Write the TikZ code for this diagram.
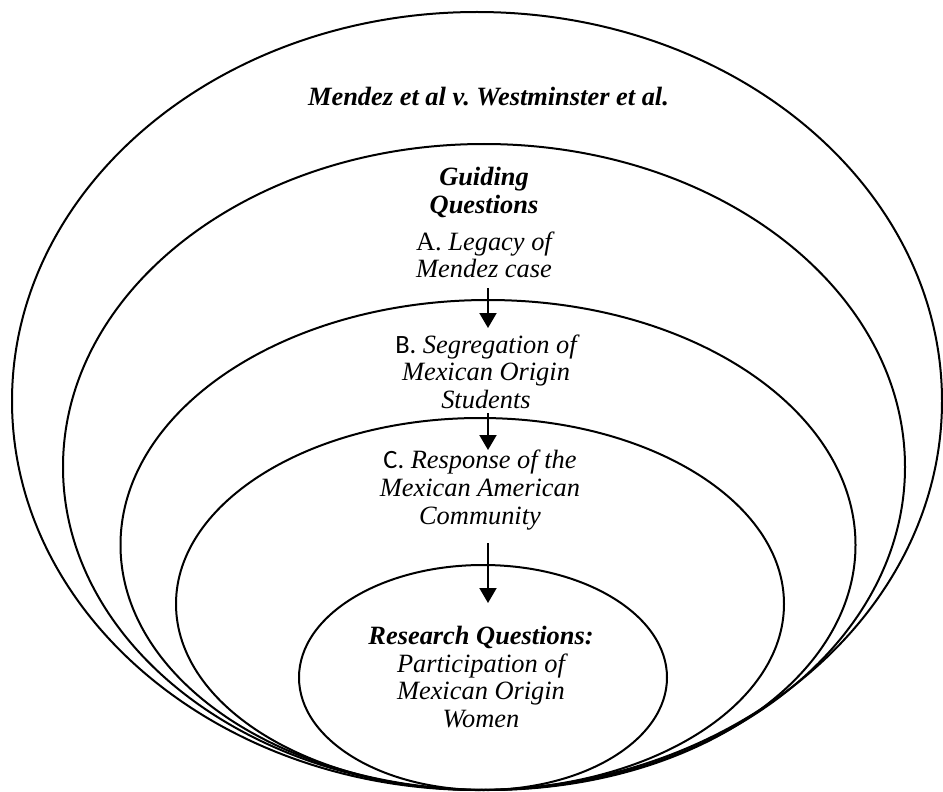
\documentclass[tikz,border=0pt]{standalone}
\usepackage{fontspec}
\setmainfont{Liberation Serif}
\newfontfamily\calfont{Carlito}
\usetikzlibrary{shapes.geometric}
\usetikzlibrary{arrows.meta}
\frenchspacing
\tikzset{
    ring/.style = {ellipse, draw=black, line width=1pt, inner sep=0pt},
    title/.style = {align=center, inner sep=0pt, font=\fontsize{13.2}{13.8}\selectfont\bfseries\itshape},
    qtext/.style = {align=center, inner sep=0pt, font=\fontsize{13.2}{13.8}\selectfont\itshape},
    edgen/.style = {-{Triangle[length=7.5pt,width=8.5pt]}, line width=1pt},
}

\begin{document}
\begin{tikzpicture}[x=0.5pt,y=-0.5pt]
\useasboundingbox (0,0) rectangle (943,792);
\node[ring, minimum width=465pt, minimum height=389pt] at (477,401) (court) {};
\node[ring, minimum width=421pt, minimum height=323pt] at (484,467) (guiding) {};
\node[ring, minimum width=367.5pt, minimum height=245pt] at (488,545) (segr) {};
\node[ring, minimum width=304pt, minimum height=186pt] at (480,604) (resp) {};
\node[ring, minimum width=184pt, minimum height=112.5pt] at (483,677.5) (research) {};
%
\node[title] at (488.5,97) (mendez) {Mendez et al v. Westminster et al.};
\node[title] at (484,192.7) (guide) {Guiding\\Questions};
\node[qtext] at (484,255) (qa) {{\upshape A.} Legacy of\\Mendez case};
\node[qtext] at (486,371.5) (qb) {{\calfont\upshape B.} Segregation of\\Mexican Origin\\Students};
\node[qtext] at (480,490) (qc) {{\calfont\upshape C.} Response of the\\Mexican American\\Community};
\node[qtext] at (481,677) (rq) {\textbf{Research Questions:}\\Participation of\\Mexican Origin\\Women};
%
\coordinate (a1) at (488,288);
\coordinate (a2) at (488,328);
\coordinate (b1) at (488,413);
\coordinate (b2) at (488,450);
\coordinate (c1) at (488,543);
\coordinate (c2) at (488,603);
\draw[edgen] (a1) -- (a2);
\draw[edgen] (b1) -- (b2);
\draw[edgen] (c1) -- (c2);

\end{tikzpicture}
\end{document}
